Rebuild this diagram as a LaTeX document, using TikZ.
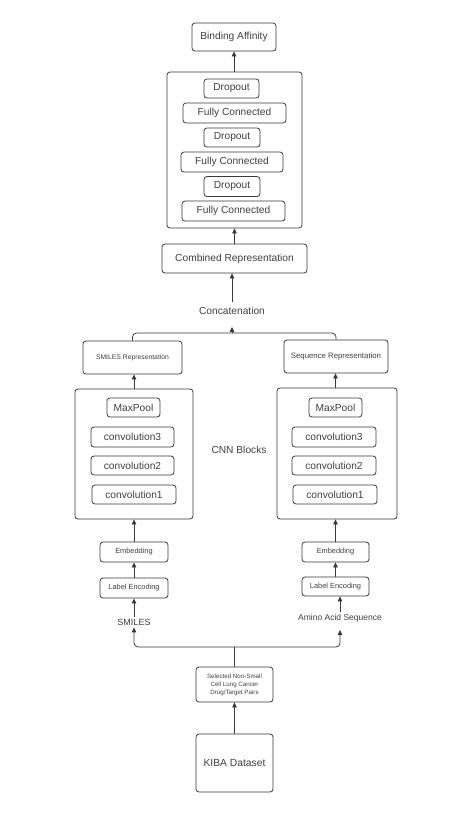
\documentclass[tikz,border=0pt]{standalone}
\usepackage{fontspec}
\setmainfont{Liberation Sans}
\usetikzlibrary{arrows.meta}
\definecolor{ln}{HTML}{3A3A3A}
\definecolor{tx}{HTML}{404040}
\tikzset{
  box/.style={draw=ln, line width=0.8pt, rounded corners=3pt, inner sep=0pt, text=tx, align=center},
  lbl/.style={text=tx, inner sep=2pt, align=center},
  conn/.style={draw=ln, line width=0.8pt},
  arr/.style={conn, -{Triangle[length=5pt,width=4.5pt]}},
  fs10/.style={font=\fontsize{10.2}{12}\selectfont},
  fs7/.style={font=\fontsize{7.4}{8.5}\selectfont},
  fs6/.style={font=\fontsize{6.2}{8}\selectfont},
}
\begin{document}
\begin{tikzpicture}[x=1pt,y=-1pt]
\fill[white] (0,0) rectangle (464,820);
\useasboundingbox (0,0) rectangle (464,820);
% top stack
\node[box,fs10,minimum width=84pt,minimum height=28pt] (ba) at (234,37) {Binding Affinity};
\node[box,minimum width=135pt,minimum height=156pt] (top) at (234.5,150) {};
\node[box,fs10,minimum width=55pt,minimum height=19pt] (d1) at (231.5,88.5) {Dropout};
\node[box,fs10,minimum width=103pt,minimum height=20pt] (fc1) at (234.5,113) {Fully Connected};
\node[box,fs10,minimum width=56pt,minimum height=19pt] (d2) at (232,137.5) {Dropout};
\node[box,fs10,minimum width=102pt,minimum height=20pt] (fc2) at (232,162) {Fully Connected};
\node[box,fs10,minimum width=56pt,minimum height=20pt] (d3) at (232,186.5) {Dropout};
\node[box,fs10,minimum width=103pt,minimum height=20pt] (fc3) at (233.5,211) {Fully Connected};
\node[box,fs10,minimum width=145pt,minimum height=29pt] (comb) at (234.5,258.5) {Combined Representation};
\node[lbl,fs10,inner ysep=5pt] (concat) at (232,311) {Concatenation};
% left branch
\node[box,font=\fontsize{6.8}{8}\selectfont,minimum width=99pt,minimum height=33pt] (smrep) at (132.5,357.5) {SMILES Representation};
\node[box,minimum width=118pt,minimum height=130pt] (lcnn) at (134,454) {};
\node[box,fs10,minimum width=53pt,minimum height=19pt] (lmax) at (133.5,407.5) {MaxPool};
\node[box,fs10,minimum width=83pt,minimum height=20pt] (lc3) at (132.5,437) {convolution3};
\node[box,fs10,minimum width=83pt,minimum height=19pt] (lc2) at (132.5,465.5) {convolution2};
\node[box,fs10,minimum width=84pt,minimum height=19pt] (lc1) at (134,494.5) {convolution1};
\node[box,fs7,minimum width=68pt,minimum height=20pt] (lemb) at (134,552) {Embedding};
\node[box,fs7,minimum width=68pt,minimum height=20pt] (llab) at (134,588) {Label Encoding};
\node[lbl,font=\fontsize{9}{11}\selectfont] (smiles) at (134,622) {SMILES};
% middle label
\node[lbl,fs10] (cnn) at (239,450) {CNN Blocks};
% right branch
\node[box,font=\fontsize{7.8}{9}\selectfont,minimum width=104pt,minimum height=33pt] (sqrep) at (336,356.5) {Sequence Representation};
\node[box,minimum width=120pt,minimum height=131pt] (rcnn) at (337,453.5) {};
\node[box,fs10,minimum width=53pt,minimum height=19pt] (rmax) at (335.5,407.5) {MaxPool};
\node[box,fs10,minimum width=84pt,minimum height=20pt] (rc3) at (334,437) {convolution3};
\node[box,fs10,minimum width=84pt,minimum height=19pt] (rc2) at (334,465.5) {convolution2};
\node[box,fs10,minimum width=84pt,minimum height=19pt] (rc1) at (335,494.5) {convolution1};
\node[box,fs7,minimum width=67pt,minimum height=20pt] (remb) at (335.5,552) {Embedding};
\node[box,fs7,minimum width=67pt,minimum height=19pt] (rlab) at (335.5,586.5) {Label Encoding};
\node[lbl,font=\fontsize{8.5}{10}\selectfont] (amino) at (340,618) {Amino Acid Sequence};
% bottom
\node[box,fs6,minimum width=77pt,minimum height=35pt] (sel) at (234.5,684.5) {Selected Non-Small\\Cell Lung Cancer\\Drug/Target Pairs};
\node[box,font=\fontsize{10.3}{12}\selectfont,minimum width=77pt,minimum height=58pt] (kiba) at (234.5,763) {KIBA Dataset};
% coordinates
\coordinate (mgb) at (232,333);
\coordinate (mg) at (232,327);
\coordinate (spl) at (234.5,647);
\coordinate (ain) at (340,630);
% connectors
\draw[arr] (top.north -| ba) -- (ba.south);
\draw[arr] (comb.north -| top) -- (top.south);
\draw[arr] (concat.north) -- (concat.north |- comb.south);
\draw[conn,rounded corners=4pt] (smrep.north) |- (mgb) -| (sqrep.north);
\draw[arr] (mgb) -- (mg);
\draw[arr] (lcnn.north -| lemb) -- (lemb |- smrep.south);
\draw[arr] (rcnn.north -| rmax) -- (rmax |- sqrep.south);
\draw[arr] (lemb.north) -- (lemb.north |- lcnn.south);
\draw[arr] (llab.north) -- (lemb.south);
\draw[arr] (smiles.north) -- (llab.south);
\draw[arr] (remb.north -| rmax) -- (rmax |- rcnn.south);
\draw[arr] (rlab.north) -- (remb.south);
\draw[arr] (amino.north) -- (amino.north |- rlab.south);
\draw[conn] (sel.north) -- (spl);
\draw[arr,rounded corners=4pt] (spl) -| (smiles.south);
\draw[arr,rounded corners=4pt] (spl) -| (ain);
\draw[arr] (kiba.north) -- (sel.south);
\end{tikzpicture}
\end{document}
